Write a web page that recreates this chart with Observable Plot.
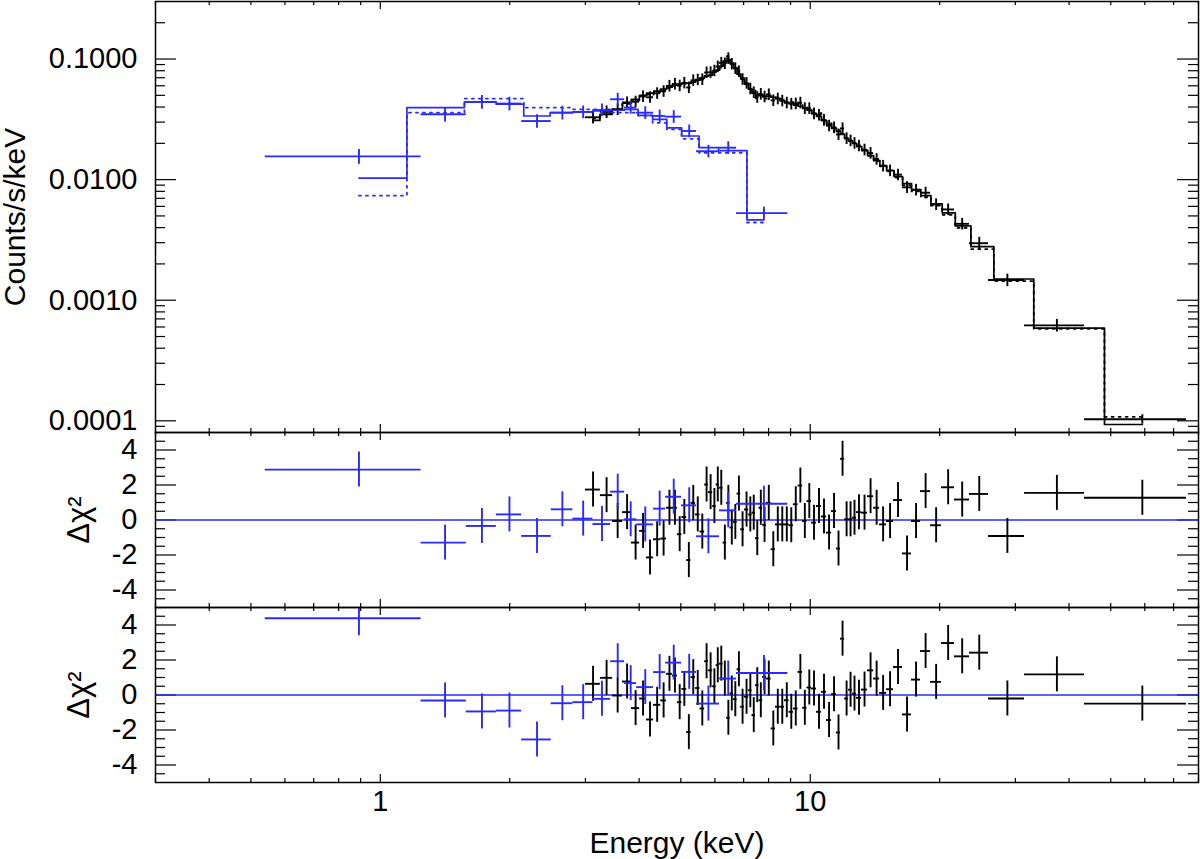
<!DOCTYPE html>
<html>
<head>
<meta charset="utf-8">
<script src="https://cdn.jsdelivr.net/npm/d3@7"></script>
<script src="https://cdn.jsdelivr.net/npm/@observablehq/plot@0.6"></script>
<style>
  body { margin: 0; background: white; }
  #chart { position: relative; width: 1200px; height: 859px; }
  #chart svg { position: absolute; left: 0; overflow: visible; }
</style>
</head>
<body>
<div id="chart"></div>
<script>
// black spectrum: channel edges (keV), rate, two models, delta-chi for both fits
const blackEdges = [3.00, 3.25, 3.47, 3.66, 3.84, 4.01, 4.16, 4.32, 4.49, 4.63,
  4.78, 4.91, 5.03, 5.16, 5.28, 5.41, 5.54, 5.68, 5.80, 5.93,
  6.04, 6.15, 6.27, 6.39, 6.51, 6.63, 6.76, 6.89, 7.03, 7.19,
  7.32, 7.46, 7.60, 7.75, 7.91, 8.11, 8.30, 8.51, 8.71, 8.93,
  9.14, 9.37, 9.60, 9.83, 10.07, 10.34, 10.62, 10.91, 11.21, 11.51,
  11.76, 12.02, 12.28, 12.54, 12.81, 13.16, 13.59, 14.04, 14.50, 15.05,
  15.62, 16.39, 17.20, 18.05, 19.05, 20.20, 21.66, 23.47, 25.98, 31.51,
  43.44, 75.0];
const blackRate = [0.0329, 0.0365, 0.0382, 0.0437, 0.0443, 0.0490, 0.0482, 0.0520, 0.0541, 0.0599,
  0.0622, 0.0602, 0.0635, 0.0581, 0.0665, 0.0675, 0.0678, 0.0773, 0.0777, 0.0801,
  0.0867, 0.0930, 0.0919, 0.1014, 0.0912, 0.0838, 0.0790, 0.0681, 0.0632, 0.0568,
  0.0529, 0.0483, 0.0513, 0.0487, 0.0509, 0.0454, 0.0469, 0.0451, 0.0434, 0.0425,
  0.0427, 0.0434, 0.0390, 0.0390, 0.0353, 0.0344, 0.0312, 0.0280, 0.0271, 0.0237,
  0.0266, 0.0220, 0.0211, 0.0201, 0.0191, 0.0177, 0.0166, 0.0148, 0.0130, 0.0119,
  0.0110, 0.00864, 0.00823, 0.00779, 0.00624, 0.00566, 0.00430, 0.00297, 0.00147, 0.000619,
  0.000103];
const blackErr = [0.12, 0.12, 0.11, 0.11, 0.11, 0.11, 0.11, 0.11, 0.11, 0.11,
  0.11, 0.11, 0.11, 0.11, 0.11, 0.11, 0.11, 0.11, 0.11, 0.11,
  0.11, 0.11, 0.11, 0.11, 0.11, 0.11, 0.11, 0.11, 0.11, 0.11,
  0.11, 0.11, 0.11, 0.11, 0.11, 0.11, 0.11, 0.11, 0.11, 0.11,
  0.11, 0.11, 0.11, 0.11, 0.11, 0.11, 0.11, 0.11, 0.11, 0.11,
  0.11, 0.11, 0.11, 0.11, 0.11, 0.11, 0.11, 0.11, 0.11, 0.11,
  0.11, 0.11, 0.11, 0.11, 0.11, 0.11, 0.11, 0.12, 0.12, 0.12,
  0.09];
const blackModel = [0.0310, 0.0348, 0.0383, 0.0430, 0.0464, 0.0501, 0.0521, 0.0541, 0.0562, 0.0584,
  0.0607, 0.0619, 0.0631, 0.0631, 0.0643, 0.0668, 0.0694, 0.0722, 0.0736, 0.0779,
  0.0810, 0.0874, 0.0962, 0.0981, 0.0926, 0.0841, 0.0750, 0.0694, 0.0619, 0.0562,
  0.0521, 0.0501, 0.0501, 0.0492, 0.0492, 0.0482, 0.0473, 0.0455, 0.0438, 0.0430,
  0.0414, 0.0406, 0.0391, 0.0376, 0.0355, 0.0335, 0.0310, 0.0287, 0.0266, 0.0251,
  0.0237, 0.0220, 0.0211, 0.0200, 0.0188, 0.0174, 0.0158, 0.0144, 0.0131, 0.0119,
  0.0106, 0.00926, 0.00825, 0.00736, 0.00631, 0.00531, 0.00413, 0.00278, 0.00150, 0.000588,
  0.0000932];
const blackModel2 = [0.0322, 0.0353, 0.0383, 0.0425, 0.0455, 0.0494, 0.0507, 0.0531, 0.0547, 0.0574,
  0.0598, 0.0610, 0.0627, 0.0627, 0.0643, 0.0666, 0.0697, 0.0725, 0.0740, 0.0787,
  0.0820, 0.0876, 0.0887, 0.1059, 0.0909, 0.0845, 0.0750, 0.0699, 0.0634, 0.0562,
  0.0550, 0.0473, 0.0519, 0.0469, 0.0492, 0.0486, 0.0480, 0.0462, 0.0438, 0.0440,
  0.0438, 0.0415, 0.0400, 0.0385, 0.0349, 0.0356, 0.0310, 0.0294, 0.0270, 0.0256,
  0.0239, 0.0222, 0.0209, 0.0200, 0.0192, 0.0175, 0.0158, 0.0143, 0.0129, 0.0117,
  0.0104, 0.00900, 0.00798, 0.00714, 0.00608, 0.00511, 0.00398, 0.00265, 0.00144, 0.000580,
  0.000108];
const blackRes1 = [1.74, 1.42, -0.06, 0.45, -1.29, -0.62, -2.14, -1.10, -1.06, 0.70,
  0.70, -0.81, 0.17, -2.29, 0.98, 0.32, -0.66, 2.03, 1.59, 0.80,
  2.03, 1.84, -1.29, 0.98, -0.43, -0.11, 1.51, -0.53, 0.60, 0.32,
  0.42, -1.04, 0.70, -0.28, 0.98, -1.67, -0.25, -0.25, -0.25, -0.30,
  0.90, 1.97, -0.06, 1.08, -0.15, 0.80, 0.20, -0.72, 0.51, -1.63,
  3.50, 0.04, 0.04, 0.13, 0.45, 0.42, 1.36, 0.70, -0.25, -0.06,
  1.14, -1.91, -0.06, 1.65, -0.30, 1.87, 1.17, 1.49, -0.91, 1.55,
  1.27];
const blackRes2 = [0.64, 0.98, -0.03, 0.77, -0.75, -0.20, -1.40, -0.56, -0.31, 1.21,
  1.11, -0.41, 0.35, -2.12, 1.02, 0.40, -0.77, 1.93, 1.41, 0.50,
  1.70, 1.79, 0.94, -1.30, 0.09, -0.24, 1.47, -0.67, -0.10, 0.27,
  -1.15, 0.56, -0.30, 1.03, 0.94, -1.91, -0.67, -0.67, -0.30, -0.96,
  -0.77, 1.32, -0.73, 0.43, 0.37, -0.96, 0.18, -1.43, 0.05, -2.14,
  3.22, -0.20, 0.30, 0.08, -0.16, 0.31, 1.41, 0.94, 0.12, 0.33,
  1.60, -1.11, 0.88, 2.51, 0.75, 2.97, 2.21, 2.42, -0.20, 1.18,
  -0.49];

// blue spectrum
const blueEdges = [0.540, 1.244, 1.585, 1.862, 2.132, 2.498, 2.805, 3.123, 3.433, 3.700,
  3.946, 4.321, 4.608, 5.020, 5.440, 6.153, 6.740, 8.869];
const blueRate = [0.0156, 0.0348, 0.0441, 0.0427, 0.0306, 0.0359, 0.0364, 0.0378, 0.0464, 0.0396,
  0.0359, 0.0337, 0.0333, 0.0253, 0.0172, 0.0184, 0.00528];
const blueErr = [0.14, 0.14, 0.13, 0.13, 0.13, 0.13, 0.12, 0.12, 0.12, 0.12,
  0.12, 0.12, 0.12, 0.12, 0.12, 0.12, 0.12];
const blueModel = [0.0103, 0.0396, 0.0441, 0.0422, 0.0337, 0.0359, 0.0364, 0.0371, 0.0376, 0.0383,
  0.0341, 0.0316, 0.0269, 0.0230, 0.0184, 0.0174, 0.00464];
const blueModel2 = [0.00736, 0.0359, 0.0470, 0.0470, 0.0396, 0.0396, 0.0383, 0.0383, 0.0360, 0.0359,
  0.0340, 0.0296, 0.0261, 0.0218, 0.0167, 0.0167, 0.00441];
const blueRes1 = [2.88, -1.29, -0.34, 0.32, -0.91, 0.61, 0.08, -0.23, 1.62, 0.04,
  -0.25, 0.65, 1.33, 0.84, -0.93, 0.55, 0.93];
const blueRes2 = [4.39, -0.31, -0.94, -0.89, -2.54, -0.47, -0.41, -0.22, 1.93, 0.68,
  0.45, 1.31, 1.85, 1.32, -0.49, 0.94, 1.26];

// ticks
const xMajor = [1, 10];
const xMinor = [0.3, 0.4, 0.5, 0.6, 0.7, 0.8, 0.9, 2, 3, 4, 5, 6, 7, 8, 9, 20, 30, 40, 50, 60, 70, 80];
const specMajor = [0.0001, 0.001, 0.01, 0.1];
const specMinor = [0.00009, 0.0002, 0.0003, 0.0004, 0.0005, 0.0006, 0.0007, 0.0008, 0.0009,
  0.002, 0.003, 0.004, 0.005, 0.006, 0.007, 0.008, 0.009,
  0.02, 0.03, 0.04, 0.05, 0.06, 0.07, 0.08, 0.09, 0.2];
const resMajor = [-4, -2, 0, 2, 4];
const resMinor = [-4.5, -3.5, -3, -2.5, -1.5, -1, -0.5, 0.5, 1, 1.5, 2.5, 3, 3.5, 4.5];

const blue = "#2a2aff";
const W = 1200, left = 155, right = 2;
const frameW = W - left - right;
const font = "'Liberation Sans', Arial, Helvetica, sans-serif";

function bins(edges, rate, err, m1, m2, r1, r2) {
  return rate.map((c, i) => {
    const lo = edges[i], hi = edges[i + 1];
    return {lo, hi, e: (lo + hi) / 2, c, cLo: c * (1 - err[i]), cHi: c * (1 + err[i]),
      m1: m1[i], m2: m2[i], r1: r1[i], r2: r2[i]};
  });
}
const black = bins(blackEdges, blackRate, blackErr, blackModel, blackModel2, blackRes1, blackRes2);
const blueB = bins(blueEdges, blueRate, blueErr, blueModel, blueModel2, blueRes1, blueRes2);

// histogram like IDL psym=10: level changes halfway between bin centres
function steps(b, key) {
  const pts = b.map((d, i) => ({x: i === 0 ? d.e : (b[i - 1].e + d.e) / 2, y: d[key]}));
  pts.push({x: b[b.length - 1].e, y: b[b.length - 1][key]});
  return pts;
}

function ticksX(frameH) {
  return [
    Plot.tickX(xMinor, {x: d => d, insetTop: frameH - 4, strokeWidth: 1.2}),
    Plot.tickX(xMinor, {x: d => d, insetBottom: frameH - 4, strokeWidth: 1.2}),
    Plot.tickX(xMajor, {x: d => d, insetTop: frameH - 8, strokeWidth: 1.2}),
    Plot.tickX(xMajor, {x: d => d, insetBottom: frameH - 8, strokeWidth: 1.2})
  ];
}
function ticksY(major, minor) {
  return [
    Plot.tickY(minor, {y: d => d, insetRight: frameW - 10, strokeWidth: 1.2}),
    Plot.tickY(minor, {y: d => d, insetLeft: frameW - 10, strokeWidth: 1.2}),
    Plot.tickY(major, {y: d => d, insetRight: frameW - 21, strokeWidth: 1.2}),
    Plot.tickY(major, {y: d => d, insetLeft: frameW - 21, strokeWidth: 1.2})
  ];
}
function crosses(b, y, y1, y2, color) {
  return [
    Plot.ruleY(b, {y, x1: "lo", x2: "hi", stroke: color, strokeWidth: 1.9, clip: true}),
    Plot.ruleX(b, {x: "e", y1, y2, stroke: color, strokeWidth: 1.9, clip: true})
  ];
}
const style = {fontFamily: font, fontSize: "29px", background: "transparent", overflow: "visible", color: "black"};

const spec = Plot.plot({
  width: W, height: 432, marginTop: 1, marginBottom: 0, marginLeft: left, marginRight: right,
  x: {type: "log", domain: [0.3, 80], axis: null},
  y: {type: "log", domain: [8e-5, 0.3], axis: null},
  style,
  marks: [
    ...ticksX(431),
    ...ticksY(specMajor, specMinor),
    Plot.line(steps(black, "m2"), {x: "x", y: "y", curve: "step-after", stroke: "black", strokeWidth: 1.8, strokeDasharray: "2,5", clip: true}),
    Plot.line(steps(black, "m1"), {x: "x", y: "y", curve: "step-after", stroke: "black", strokeWidth: 1.7, clip: true}),
    ...crosses(black, "c", "cLo", "cHi", "black"),
    Plot.line(steps(blueB, "m2"), {x: "x", y: "y", curve: "step-after", stroke: blue, strokeWidth: 1.8, strokeDasharray: "2,5", clip: true}),
    Plot.line(steps(blueB, "m1"), {x: "x", y: "y", curve: "step-after", stroke: blue, strokeWidth: 1.7, clip: true}),
    ...crosses(blueB, "c", "cLo", "cHi", blue),
    Plot.text(specMajor, {y: d => d, text: d => d.toFixed(4), frameAnchor: "left", dx: -18, textAnchor: "end", fontSize: 29}),
    Plot.text(["Counts/s/keV"], {frameAnchor: "left", dx: -140, rotate: -90, textAnchor: "middle", lineAnchor: "middle", fontSize: 30}),
    Plot.frame({strokeWidth: 1.5})
  ]
});

function resPanel(key, height, marginBottom, withAxis) {
  return Plot.plot({
    width: W, height, marginTop: 0, marginBottom, marginLeft: left, marginRight: right,
    x: {type: "log", domain: [0.3, 80], axis: null},
    y: {domain: [-5, 5], axis: null},
    style,
    marks: [
      ...ticksX(175),
      ...ticksY(resMajor, resMinor),
      Plot.ruleY([0], {stroke: blue, strokeWidth: 1.3}),
      ...crosses(black, key, d => d[key] - 1, d => d[key] + 1, "black"),
      ...crosses(blueB, key, d => d[key] - 1, d => d[key] + 1, blue),
      Plot.text(resMajor, {y: d => d, text: d => String(d), frameAnchor: "left", dx: -18, textAnchor: "end", fontSize: 29}),
      Plot.text(["Δχ²"], {frameAnchor: "left", dx: -76, rotate: -90, textAnchor: "middle", lineAnchor: "middle", fontSize: 31}),
      ...(withAxis ? [
        Plot.text(xMajor, {x: d => d, text: d => String(d), frameAnchor: "bottom", dy: 19, lineAnchor: "middle", fontSize: 29}),
        Plot.text(["Energy (keV)"], {frameAnchor: "bottom", dy: 61, lineAnchor: "middle", fontSize: 30})
      ] : []),
      Plot.frame({strokeWidth: 1.5})
    ]
  });
}
const res1 = resPanel("r1", 175, 0, false);
const res2 = resPanel("r2", 252, 77, true);

const chart = d3.select("#chart");
[[spec, 0], [res1, 432], [res2, 607]].forEach(([svg, top]) => {
  svg.style.top = top + "px";
  chart.append(() => svg);
});
</script>
</body>
</html>
